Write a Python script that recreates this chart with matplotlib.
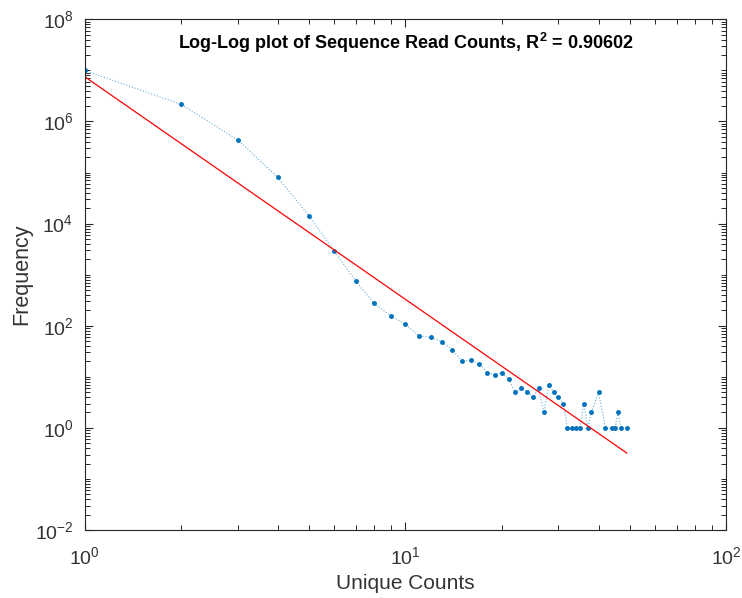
import numpy as np
import matplotlib
matplotlib.use('Agg')
import matplotlib.pyplot as plt
from matplotlib.ticker import LogLocator, NullFormatter

plt.rcParams['font.family'] = ['Liberation Sans', 'DejaVu Sans']
plt.rcParams['mathtext.fontset'] = 'custom'
plt.rcParams['mathtext.rm'] = 'Liberation Sans'
plt.rcParams['mathtext.it'] = 'Liberation Sans:italic'
plt.rcParams['mathtext.bf'] = 'Liberation Sans:bold'

# unique count values and how often each occurs
unique_counts = [1, 2, 3, 4, 5, 6, 7, 8, 9, 10,
                 11, 12, 13, 14, 15, 16, 17, 18, 19, 20,
                 21, 22, 23, 24, 25, 26, 27, 28, 29, 30,
                 31, 32, 33, 34, 35, 36, 37, 38, 40, 42,
                 44, 45, 46, 47, 49]
frequency = [1.0e7, 2.16e6, 4.38e5, 8.06e4, 1.44e4, 2910, 747, 273, 157, 106,
             64, 59, 48, 34, 20, 21, 18, 12, 11, 12,
             9, 5, 6, 5, 4, 6, 2, 7, 5, 4,
             3, 1, 1, 1, 1, 3, 1, 2, 5, 1,
             1, 1, 2, 1, 1]
title_text = r'Log-Log plot of Sequence Read Counts, R$^{\mathbf{2}}$ = 0.90602'

x = np.array(unique_counts, dtype=float)
y = np.array(frequency, dtype=float)

# straight line fit in log-log space
slope, intercept = np.polyfit(np.log10(x), np.log10(y), 1)
fit_y = 10 ** (intercept + slope * np.log10(x))

fig = plt.figure(figsize=(7.42, 5.98), dpi=100)
ax = fig.add_axes([0.1139, 0.1137, 0.8649, 0.8540])

ax.loglog(x, y, ':', color='#0072BD', linewidth=0.8, alpha=0.6)
ax.loglog(x, y, '.', color='#0072BD', markersize=5)
ax.loglog(x, fit_y, '-', color='red', linewidth=0.9)

ax.set_xlim(1, 100)
ax.set_ylim(1e-2, 1e8)
ax.xaxis.set_major_locator(LogLocator(base=10, numticks=10))
ax.xaxis.set_minor_locator(LogLocator(base=10, subs=np.arange(2, 10), numticks=20))
ax.xaxis.set_minor_formatter(NullFormatter())
ax.yaxis.set_major_locator(LogLocator(base=100, numticks=10))
ax.yaxis.set_minor_locator(LogLocator(base=10, subs=np.arange(1, 10), numticks=20))
ax.yaxis.set_minor_formatter(NullFormatter())

axc = '#262626'
for s in ax.spines.values():
    s.set_color(axc)
    s.set_linewidth(0.8)
ax.tick_params(which='both', direction='in', top=True, right=True, colors=axc,
               labelsize=14, labelcolor='#333333')
ax.tick_params(which='major', length=6, width=0.8)
ax.tick_params(axis='x', which='major', pad=12)
ax.tick_params(axis='y', which='major', pad=8)
ax.tick_params(which='minor', length=3.5, width=0.7)

ax.set_xlabel('Unique Counts', fontsize=15, color='#333333', labelpad=4)
ax.set_ylabel('Frequency', fontsize=15.5, color='#333333')
ax.yaxis.set_label_coords(-0.082, 0.5)
ax.text(0.5, 0.953, title_text, transform=ax.transAxes, ha='center', va='center',
        fontsize=13, fontweight='bold', color='black')

plt.savefig('out.png', dpi=100)
